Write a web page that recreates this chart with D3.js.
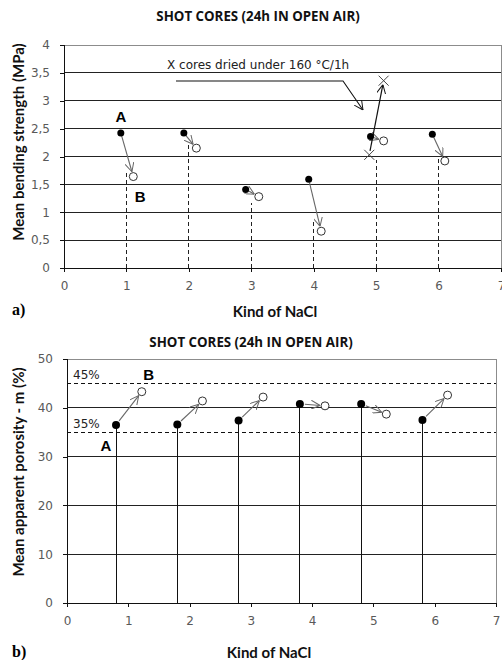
<!DOCTYPE html>
<html>
<head>
<meta charset="utf-8">
<script src="https://cdn.jsdelivr.net/npm/d3@7"></script>
<style>
    body { margin: 0; background: #fff; }
    .tick text { font-family: "DejaVu Sans", sans-serif; font-size: 12px; fill: #595959; }
    .title { font-family: "Open Sans", sans-serif; font-weight: bold; font-size: 13.3px; fill: #111; }
    .axis-title { font-family: "Lato", sans-serif; font-size: 15px; fill: #111; font-weight: bold; }
    .panel { font-family: "Liberation Serif", serif; font-weight: bold; font-size: 16px; }
    .letter { font-family: "Liberation Sans", sans-serif; font-weight: bold; font-size: 15px; }
    .note { font-family: "DejaVu Sans", sans-serif; font-size: 12px; fill: #222; }
</style>
</head>
<body>
<svg id="chart" width="502" height="660"></svg>
<script>
// --- chart a) bending strength ---
const a_before_x = [0.91, 1.92, 2.91, 3.92, 4.91, 5.90];
const a_before = [2.42, 2.42, 1.41, 1.59, 2.36, 2.40];
const a_after_x = [1.11, 2.12, 3.12, 4.12, 5.12, 6.10];
const a_after = [1.64, 2.15, 1.28, 0.66, 2.28, 1.92];
const a_drop_x = [1, 2, 3, 4, 5, 6];
const a_drop = [1.76, 2.24, 1.17, 0.85, 1.94, 1.96];
const a_dried_x = [4.89, 5.12];
const a_dried = [2.03, 3.36];
const a_yticks = [0, 0.5, 1, 1.5, 2, 2.5, 3, 3.5, 4];

// --- chart b) porosity ---
const b_before_x = [0.8, 1.8, 2.8, 3.8, 4.8, 5.8];
const b_before = [36.5, 36.6, 37.4, 40.8, 40.8, 37.5];
const b_after_x = [1.22, 2.21, 3.2, 4.21, 5.21, 6.21];
const b_after = [43.3, 41.4, 42.2, 40.4, 38.7, 42.6];
const b_limits = [35, 45];
const b_yticks = [0, 10, 20, 30, 40, 50];

const x_ticks = [0, 1, 2, 3, 4, 5, 6, 7];
const title_text = "SHOT CORES (24h IN OPEN AIR)";

const svg = d3.select("#chart");

const defs = svg.append("defs");
function arrowMarker(id, color) {
    defs.append("marker")
        .attr("id", id)
        .attr("viewBox", "0 0 10 10")
        .attr("refX", 10).attr("refY", 5)
        .attr("markerWidth", 9).attr("markerHeight", 9)
        .attr("markerUnits", "userSpaceOnUse")
        .attr("orient", "auto")
        .append("path")
        .attr("d", "M0,0 L10,5 L0,10")
        .attr("fill", "none")
        .attr("stroke", color)
        .attr("stroke-width", 1.1);
}
arrowMarker("arrGrey", "#666");
arrowMarker("arrBlack", "#111");

// shortened segment between two points
function shortSeg(x1, y1, x2, y2, s0, s1) {
    const dx = x2 - x1, dy = y2 - y1, L = Math.sqrt(dx * dx + dy * dy);
    return [x1 + dx / L * s0, y1 + dy / L * s0, x2 - dx / L * s1, y2 - dy / L * s1];
}

function drawFrame(g, x, y, yticks, fmt) {
    const [x0, x1] = x.range();
    const [y0, y1] = y.range();

    // gridlines
    g.selectAll(".grid")
        .data(yticks.filter(function (d) { return d > 0; }))
        .enter().append("line")
        .attr("class", "grid")
        .attr("x1", x0).attr("x2", x1)
        .attr("y1", function (d) { return y(d); })
        .attr("y2", function (d) { return y(d); })
        .attr("stroke", "#222")
        .attr("shape-rendering", "crispEdges");

    // plot border (top / right)
    g.append("path")
        .attr("d", "M" + x0 + "," + y1 + "H" + x1 + "V" + y0)
        .attr("fill", "none")
        .attr("stroke", "#8c8c8c")
        .attr("shape-rendering", "crispEdges");

    const yAxis = g.append("g")
        .attr("transform", "translate(" + x0 + ",0)")
        .call(d3.axisLeft(y).tickValues(yticks).tickSize(4).tickPadding(10).tickFormat(fmt));
    const xAxis = g.append("g")
        .attr("transform", "translate(0," + y0 + ")")
        .call(d3.axisBottom(x).tickValues(x_ticks).tickSize(4).tickPadding(9).tickFormat(d3.format("d")));
    [yAxis, xAxis].forEach(function (ax) {
        ax.select(".domain").attr("stroke", "#111").attr("shape-rendering", "crispEdges");
        ax.selectAll(".tick line").attr("stroke", "#111").attr("shape-rendering", "crispEdges");
    });
}

/* ================= a) ================= */
const xa = d3.scaleLinear().domain([0, 7]).range([64, 501]);
const ya = d3.scaleLinear().domain([0, 4]).range([268, 45]);
const ga = svg.append("g");

drawFrame(ga, xa, ya, a_yticks, function (d) { return String(d).replace(".", ","); });

// dashed drop lines
ga.selectAll(".drop")
    .data(a_drop)
    .enter().append("line")
    .attr("x1", function (d, i) { return xa(a_drop_x[i]); })
    .attr("x2", function (d, i) { return xa(a_drop_x[i]); })
    .attr("y1", ya(0))
    .attr("y2", function (d) { return ya(d); })
    .attr("stroke", "#222")
    .attr("stroke-dasharray", "4,3")
    .attr("shape-rendering", "crispEdges");

// arrows A -> B
a_before.forEach(function (v, i) {
    const s = shortSeg(xa(a_before_x[i]), ya(v), xa(a_after_x[i]), ya(a_after[i]), 3, 5);
    ga.append("line")
        .attr("x1", s[0]).attr("y1", s[1]).attr("x2", s[2]).attr("y2", s[3])
        .attr("stroke", "#666").attr("stroke-width", 1.1)
        .attr("marker-end", "url(#arrGrey)");
});

// dried cores arrow
const sd = shortSeg(xa(a_dried_x[0]), ya(a_dried[0]), xa(a_dried_x[1]), ya(a_dried[1]), 4, 4);
ga.append("line")
    .attr("x1", sd[0]).attr("y1", sd[1]).attr("x2", sd[2]).attr("y2", sd[3])
    .attr("stroke", "#111").attr("stroke-width", 1.2)
    .attr("marker-end", "url(#arrBlack)");

ga.selectAll(".before")
    .data(a_before)
    .enter().append("circle")
    .attr("cx", function (d, i) { return xa(a_before_x[i]); })
    .attr("cy", function (d) { return ya(d); })
    .attr("r", 3.5)
    .attr("fill", "#000");

ga.selectAll(".after")
    .data(a_after)
    .enter().append("circle")
    .attr("cx", function (d, i) { return xa(a_after_x[i]); })
    .attr("cy", function (d) { return ya(d); })
    .attr("r", 4)
    .attr("fill", "#fff")
    .attr("stroke", "#333");

ga.selectAll(".dried")
    .data(a_dried)
    .enter().append("path")
    .attr("transform", function (d, i) { return "translate(" + xa(a_dried_x[i]) + "," + ya(d) + ")"; })
    .attr("d", "M-5,-5L5,5M-5,5L5,-5")
    .attr("stroke", "#444")
    .attr("fill", "none");

// callout
ga.append("text").attr("class", "note")
    .attr("x", 167).attr("y", 69)
    .text("X cores dried under 160 °C/1h");
ga.append("path")
    .attr("d", "M176,81H343L363,110")
    .attr("fill", "none")
    .attr("stroke", "#111")
    .attr("stroke-width", 1.1)
    .attr("marker-end", "url(#arrBlack)");

ga.append("text").attr("class", "letter")
    .attr("x", xa(a_before_x[0])).attr("y", ya(a_before[0]) - 11)
    .attr("text-anchor", "middle").text("A");
ga.append("text").attr("class", "letter")
    .attr("x", xa(a_after_x[0]) + 7).attr("y", ya(a_after[0]) + 25)
    .attr("text-anchor", "middle").text("B");

ga.append("text").attr("class", "title")
    .attr("x", 258).attr("y", 21).attr("text-anchor", "middle").text(title_text);
ga.append("text").attr("class", "axis-title")
    .attr("x", 275).attr("y", 317).attr("text-anchor", "middle").text("Kind of NaCl");
ga.append("text").attr("class", "axis-title")
    .attr("transform", "translate(24,142) rotate(-90)")
    .attr("text-anchor", "middle").text("Mean bending strength (MPa)");
ga.append("text").attr("class", "panel")
    .attr("x", 12).attr("y", 315).text("a)");

/* ================= b) ================= */
const xb = d3.scaleLinear().domain([0, 7]).range([67, 496]);
const yb = d3.scaleLinear().domain([0, 50]).range([603, 359]);
const gb = svg.append("g");

drawFrame(gb, xb, yb, b_yticks, function (d) { return d; });

// limit lines 35% / 45%
gb.selectAll(".limit")
    .data(b_limits)
    .enter().append("line")
    .attr("x1", xb(0)).attr("x2", xb(7))
    .attr("y1", function (d) { return yb(d); })
    .attr("y2", function (d) { return yb(d); })
    .attr("stroke", "#111")
    .attr("stroke-dasharray", "4,3")
    .attr("shape-rendering", "crispEdges");
gb.selectAll(".limitLabel")
    .data(b_limits)
    .enter().append("text")
    .attr("class", "note")
    .attr("x", 73)
    .attr("y", function (d) { return yb(d) - 4; })
    .text(function (d) { return d + "%"; });

// stems
gb.selectAll(".stem")
    .data(b_before)
    .enter().append("line")
    .attr("x1", function (d, i) { return xb(b_before_x[i]); })
    .attr("x2", function (d, i) { return xb(b_before_x[i]); })
    .attr("y1", yb(0))
    .attr("y2", function (d) { return yb(d); })
    .attr("stroke", "#111")
    .attr("shape-rendering", "crispEdges");

b_before.forEach(function (v, i) {
    const s = shortSeg(xb(b_before_x[i]), yb(v), xb(b_after_x[i]), yb(b_after[i]), 5, 5);
    gb.append("line")
        .attr("x1", s[0]).attr("y1", s[1]).attr("x2", s[2]).attr("y2", s[3])
        .attr("stroke", "#666").attr("stroke-width", 1.1)
        .attr("marker-end", "url(#arrGrey)");
});

gb.selectAll(".before")
    .data(b_before)
    .enter().append("circle")
    .attr("cx", function (d, i) { return xb(b_before_x[i]); })
    .attr("cy", function (d) { return yb(d); })
    .attr("r", 4)
    .attr("fill", "#000");

gb.selectAll(".after")
    .data(b_after)
    .enter().append("circle")
    .attr("cx", function (d, i) { return xb(b_after_x[i]); })
    .attr("cy", function (d) { return yb(d); })
    .attr("r", 4)
    .attr("fill", "#fff")
    .attr("stroke", "#333");

gb.append("text").attr("class", "letter")
    .attr("x", xb(b_before_x[0]) - 10).attr("y", yb(b_before[0]) + 26)
    .attr("text-anchor", "middle").text("A");
gb.append("text").attr("class", "letter")
    .attr("x", xb(b_after_x[0]) + 7).attr("y", yb(b_after[0]) - 12)
    .attr("text-anchor", "middle").text("B");

gb.append("text").attr("class", "title")
    .attr("x", 251).attr("y", 347).attr("text-anchor", "middle").text(title_text);
gb.append("text").attr("class", "axis-title")
    .attr("x", 269).attr("y", 658).attr("text-anchor", "middle").text("Kind of NaCl");
gb.append("text").attr("class", "axis-title")
    .attr("transform", "translate(24,472) rotate(-90)")
    .attr("text-anchor", "middle").text("Mean apparent porosity - m (%)");
gb.append("text").attr("class", "panel")
    .attr("x", 12).attr("y", 657).text("b)");
</script>
</body>
</html>
